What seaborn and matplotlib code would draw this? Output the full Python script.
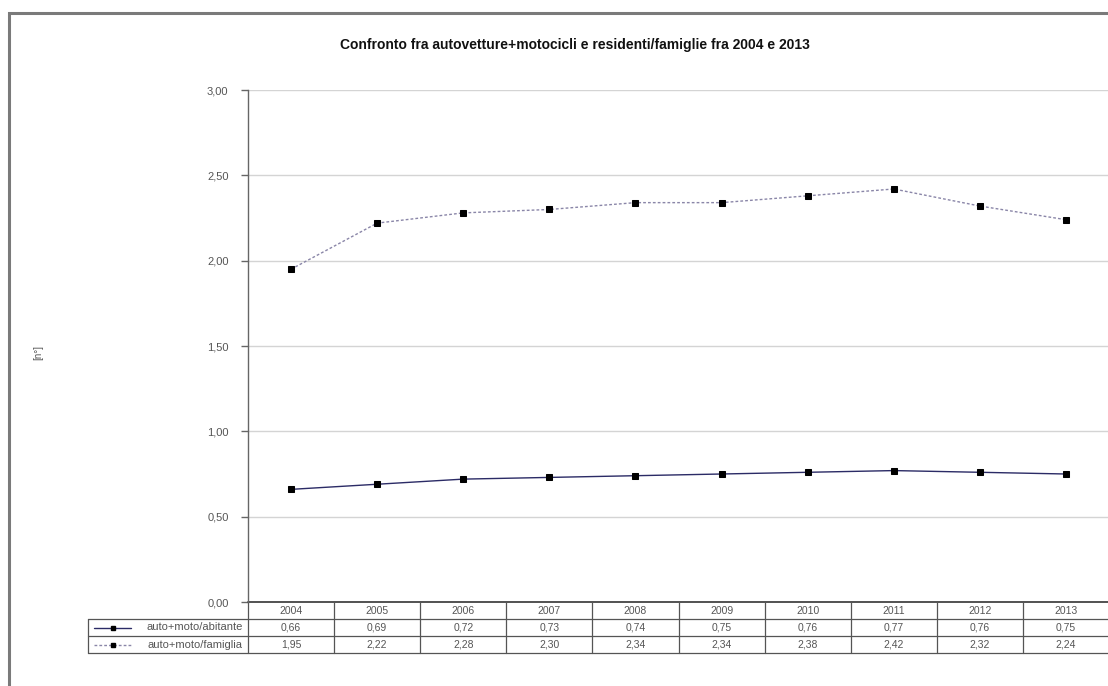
import matplotlib
matplotlib.use("Agg")
import matplotlib.pyplot as plt
import matplotlib.transforms as mtransforms
from matplotlib.lines import Line2D
from matplotlib.patches import Rectangle
import seaborn as sns
import pandas as pd

years = ["2004", "2005", "2006", "2007", "2008", "2009", "2010", "2011", "2012", "2013"]
auto_moto_abitante = [0.66, 0.69, 0.72, 0.73, 0.74, 0.75, 0.76, 0.77, 0.76, 0.75]
auto_moto_famiglia = [1.95, 2.22, 2.28, 2.30, 2.34, 2.34, 2.38, 2.42, 2.32, 2.24]
series_names = ["auto+moto/abitante", "auto+moto/famiglia"]
title = "Confronto fra autovetture+motocicli e residenti/famiglie fra 2004 e 2013"
y_label = "[n°]"
y_ticks = [0.0, 0.5, 1.0, 1.5, 2.0, 2.5, 3.0]

sns.set_style("white")
plt.rcParams["font.family"] = ["Liberation Sans", "DejaVu Sans"]

W, H = 1108, 686
fig = plt.figure(figsize=(W / 100, H / 100), dpi=100)

# outer chart frame (cropped at right and bottom)
fig.patches.append(Rectangle((9 / W, -0.1), 1.2, 1 - 13 / H + 0.1, transform=fig.transFigure,
                             fill=False, edgecolor="#7a7a7a", linewidth=2.2, zorder=0))

ax = fig.add_axes([248 / W, 1 - 602 / H, (W - 248) / W + 0.001, (602 - 90) / H])

df = pd.DataFrame({
    "x": list(range(len(years))) * 2,
    "value": auto_moto_abitante + auto_moto_famiglia,
    "serie": [series_names[0]] * len(years) + [series_names[1]] * len(years),
})
line_colors = {series_names[0]: "#2b2b66", series_names[1]: "#8a86a8"}
styles = {series_names[0]: "", series_names[1]: (2, 1.5)}

sns.lineplot(data=df, x="x", y="value", hue="serie", style="serie", dashes=styles,
             palette=line_colors, ax=ax, legend=False, linewidth=1.0,
             marker="s", markersize=4.5, markerfacecolor="black", markeredgecolor="black")

ax.set_xlim(-0.5, len(years) - 0.5)
ax.set_ylim(0, 3.0)
ax.set_yticks(y_ticks)
ax.set_yticklabels([f"{t:.2f}".replace(".", ",") for t in y_ticks], fontsize=8, color="#555555")
ax.set_xticks([])
ax.set_xlabel("")
ax.set_ylabel("")
ax.grid(axis="y", color="#d4d4d4", linewidth=1.0)
for s in ["top", "right", "bottom"]:
    ax.spines[s].set_visible(False)
ax.spines["left"].set_color("#666666")
ax.spines["left"].set_linewidth(1.0)
ax.tick_params(axis="y", which="both", left=True, length=5, width=1, color="#666666", pad=9)

fig.text(575 / W, 1 - 45 / H, title, ha="center", va="center", fontsize=10, fontweight="bold", color="#111111")
fig.text(38 / W, 1 - 352 / H, y_label, ha="center", va="center", fontsize=7, rotation=90, color="#555555")

# data table under the axis
trans = mtransforms.blended_transform_factory(ax.transData, ax.transAxes)
ax_h = 602 - 90
row_h = 17 / ax_h
legend_left_px = 88
xl = -0.5 - (248 - legend_left_px) / ((W - 248) / len(years))
tcol = "#555555"
fs = 7.5
# horizontal lines
ax.add_line(Line2D([-0.5, len(years) - 0.5], [0, 0], transform=trans, color="#444444", lw=1.3, clip_on=False))
for k in range(1, 4):
    ax.add_line(Line2D([xl, len(years) - 0.5], [-k * row_h, -k * row_h], transform=trans,
                       color="#555555", lw=0.9, clip_on=False))
# vertical lines
ax.add_line(Line2D([xl, xl], [-row_h, -3 * row_h], transform=trans, color="#555555", lw=0.9, clip_on=False))
for i in range(len(years)):
    ax.add_line(Line2D([i - 0.5, i - 0.5], [0, -3 * row_h], transform=trans, color="#555555", lw=0.9, clip_on=False))
    ax.text(i, -0.5 * row_h, years[i], transform=trans, ha="center", va="center", fontsize=fs, color=tcol)
    ax.text(i, -1.5 * row_h, f"{auto_moto_abitante[i]:.2f}".replace(".", ","), transform=trans,
            ha="center", va="center", fontsize=fs, color=tcol)
    ax.text(i, -2.5 * row_h, f"{auto_moto_famiglia[i]:.2f}".replace(".", ","), transform=trans,
            ha="center", va="center", fontsize=fs, color=tcol)

# legend keys in the row header cells
for r, name in enumerate(series_names):
    y = -(1.5 + r) * row_h
    ls = "-" if r == 0 else (0, (2, 1.5))
    ax.add_line(Line2D([xl + 0.07, xl + 0.5], [y, y], transform=trans, color=line_colors[name],
                       lw=1.0, linestyle=ls, clip_on=False))
    ax.add_line(Line2D([xl + 0.29], [y], transform=trans, marker="s", markersize=3.5,
                       markerfacecolor="black", markeredgecolor="black", clip_on=False))
    ax.text(-0.56, y, name, transform=trans, ha="right", va="center", fontsize=8, color=tcol)

fig.savefig("out.png", dpi=100)
